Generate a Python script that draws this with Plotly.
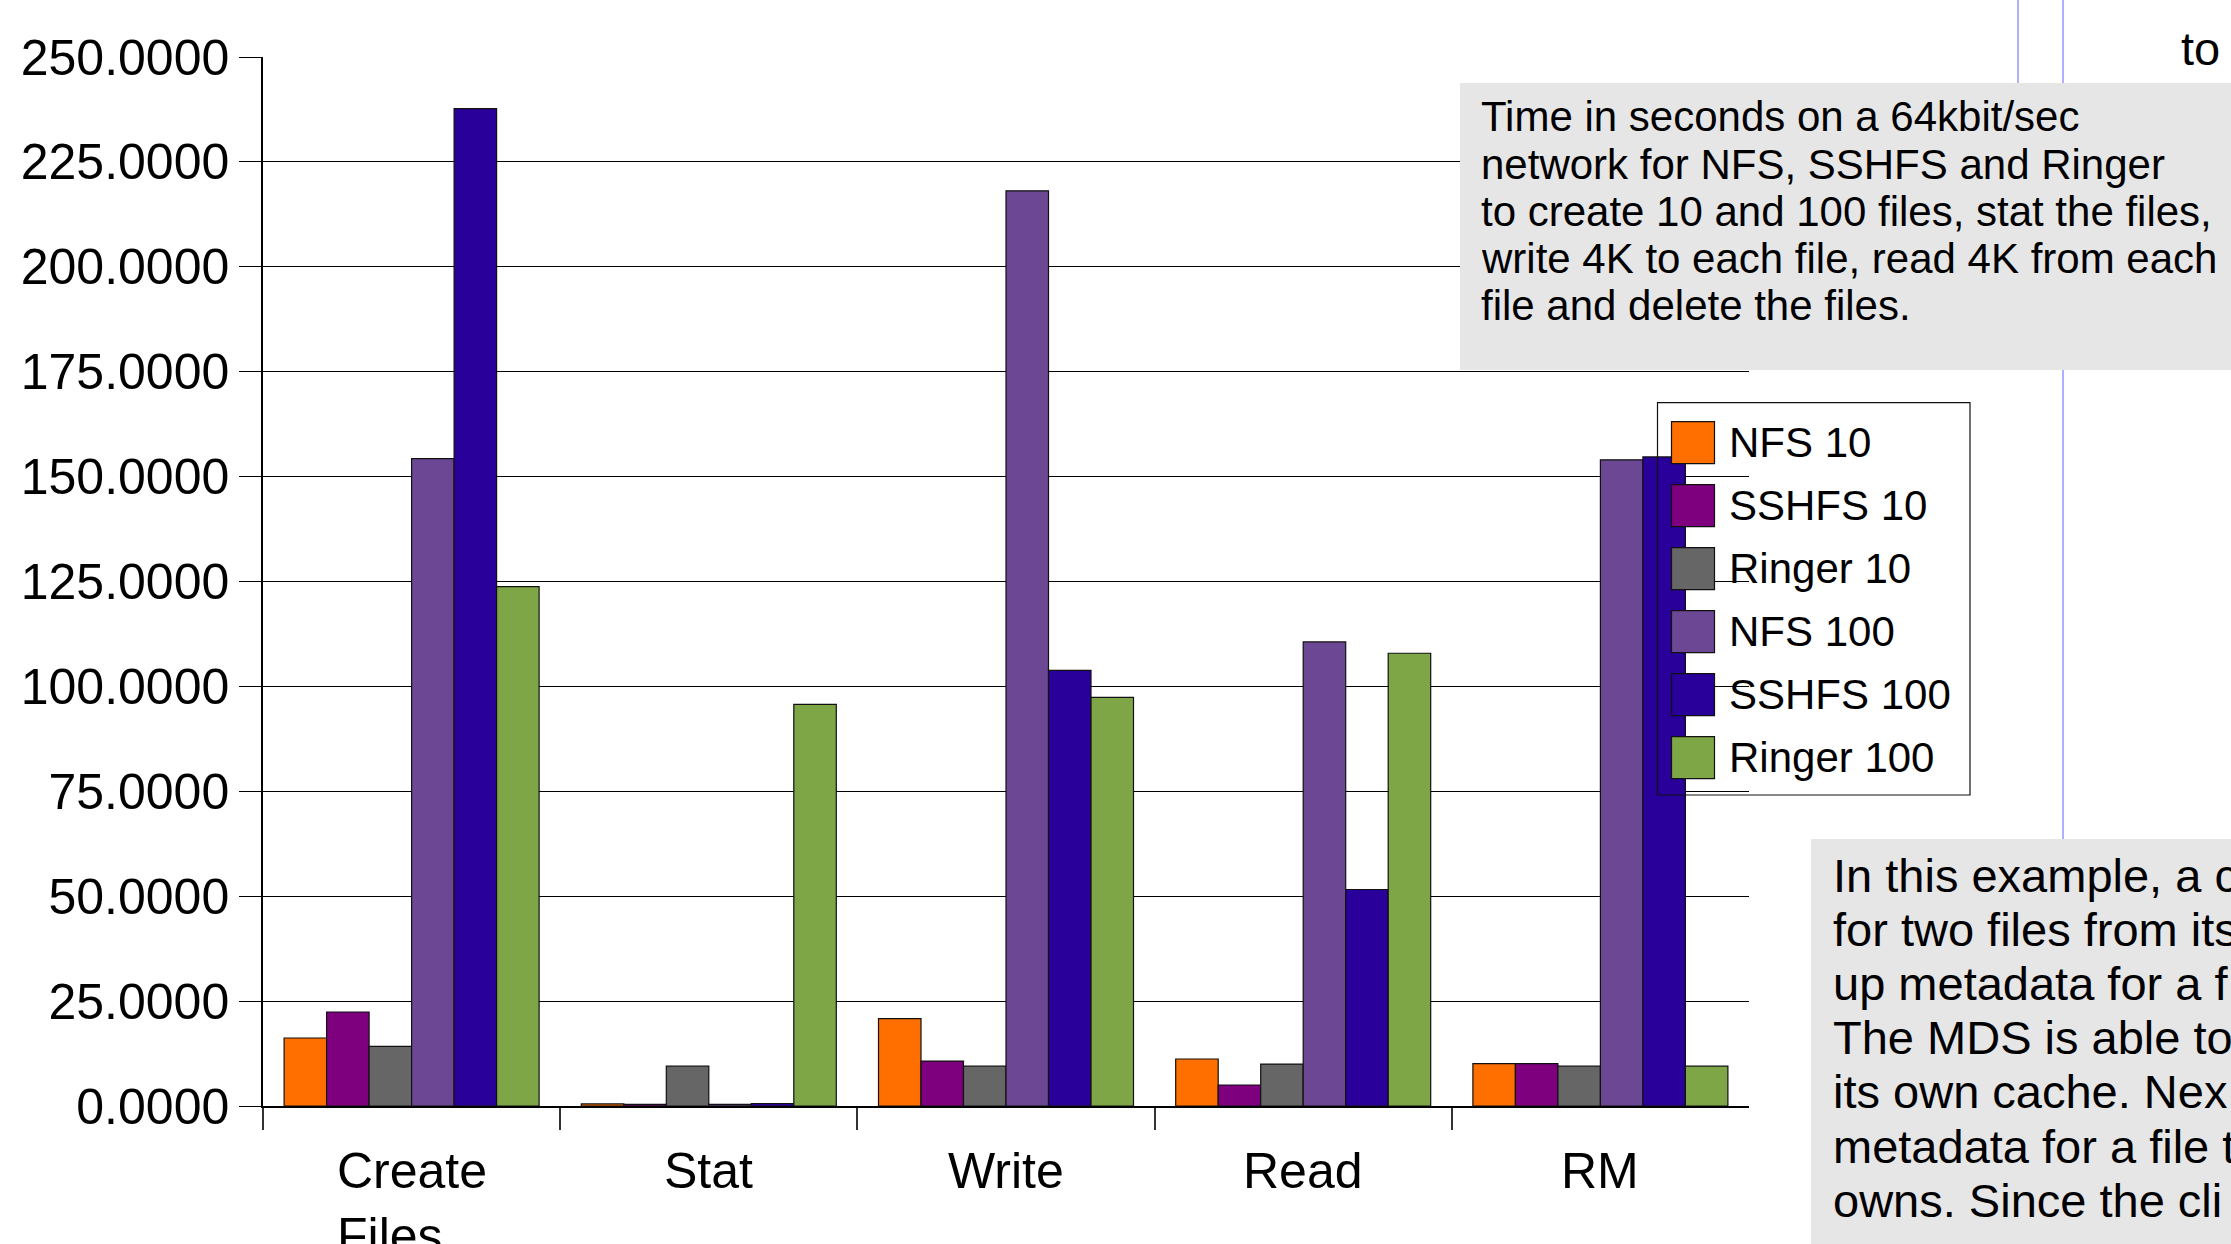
import plotly.graph_objects as go

# Benchmark results: time in seconds on a 64 kbit/s link
categories = ["Create\nFiles", "Stat", "Write", "Read", "RM"]
series_names = ["NFS 10", "SSHFS 10", "Ringer 10", "NFS 100", "SSHFS 100", "Ringer 100"]
series_colors = ["#FF6F00", "#7F007F", "#666666", "#6C4894", "#29009A", "#7EA646"]

nfs_10 = [16.2, 0.5, 20.8, 11.2, 10.1]
sshfs_10 = [22.4, 0.4, 10.7, 5.0, 10.1]
ringer_10 = [14.2, 9.5, 9.5, 10.0, 9.5]
nfs_100 = [154.3, 0.4, 218.1, 110.6, 154.0]
sshfs_100 = [237.7, 0.6, 103.8, 51.6, 154.7]
ringer_100 = [123.8, 95.7, 97.4, 107.9, 9.5]
series_values = [nfs_10, sshfs_10, ringer_10, nfs_100, sshfs_100, ringer_100]

y_ticks = [0, 25, 50, 75, 100, 125, 150, 175, 200, 225, 250]

note_lines = [
    "Time in seconds on a 64kbit/sec",
    "network for NFS, SSHFS and Ringer",
    "to create 10 and 100 files, stat the files,",
    "write 4K to each file, read 4K from each",
    "file and delete the files.",
]
side_lines = [
    "In this example, a c",
    "for two files from its",
    "up metadata for a f",
    "The MDS is able to",
    "its own cache. Nex",
    "metadata for a file t",
    "owns. Since the cli",
]

FONT = "Liberation Sans, Arial, sans-serif"
W, H = 2231, 1244
L, R, T, B = 263, 1749, 57, 1106  # plot area in pixels


def px_x(p):
    return (p - L) / (R - L)


def px_y(p):
    return (B - p) / (B - T)


fig = go.Figure()
x_pos = list(range(len(categories)))
for name, color, vals in zip(series_names, series_colors, series_values):
    fig.add_trace(go.Bar(
        x=x_pos, y=vals, name=name,
        marker=dict(color=color, line=dict(color="#111111", width=1.2)),
        showlegend=False,
    ))

shapes = []
annotations = []

# light-blue guide lines at the right
shapes.append(dict(type="line", xref="paper", yref="paper",
                   x0=px_x(2018), x1=px_x(2018), y0=px_y(0), y1=px_y(83),
                   line=dict(color="#AFAFFF", width=2), layer="above"))
shapes.append(dict(type="line", xref="paper", yref="paper",
                   x0=px_x(2063), x1=px_x(2063), y0=px_y(0), y1=px_y(839),
                   line=dict(color="#AFAFFF", width=2), layer="above"))

# grey note boxes
shapes.append(dict(type="rect", xref="paper", yref="paper",
                   x0=px_x(1460), x1=px_x(2260), y0=px_y(83), y1=px_y(370),
                   fillcolor="#E6E6E6", line=dict(width=0), layer="above"))
shapes.append(dict(type="rect", xref="paper", yref="paper",
                   x0=px_x(1811), x1=px_x(2260), y0=px_y(839), y1=px_y(1270),
                   fillcolor="#E6E6E6", line=dict(width=0), layer="above"))

for k, line in enumerate(note_lines):
    annotations.append(dict(text=line, xref="paper", yref="paper",
                            x=px_x(1479), y=px_y(116.7 + 47.3 * k),
                            xanchor="left", yanchor="middle", showarrow=False,
                            font=dict(family=FONT, size=42, color="black")))
for k, line in enumerate(side_lines):
    annotations.append(dict(text=line, xref="paper", yref="paper",
                            x=px_x(1831), y=px_y(875 + 54.2 * k),
                            xanchor="left", yanchor="middle", showarrow=False,
                            font=dict(family=FONT, size=47, color="black")))
annotations.append(dict(text="to", xref="paper", yref="paper",
                        x=px_x(2179), y=px_y(48), xanchor="left", yanchor="middle",
                        showarrow=False, font=dict(family=FONT, size=47, color="black")))

# legend box with swatches
shapes.append(dict(type="rect", xref="paper", yref="paper",
                   x0=px_x(1657.5), x1=px_x(1970), y0=px_y(402.7), y1=px_y(795),
                   fillcolor="rgba(0,0,0,0)", line=dict(color="#111111", width=1.2),
                   layer="above"))
for k, (name, color) in enumerate(zip(series_names, series_colors)):
    top = 421.7 + 63 * k
    shapes.append(dict(type="rect", xref="paper", yref="paper",
                       x0=px_x(1671.5), x1=px_x(1714.5), y0=px_y(top), y1=px_y(top + 42),
                       fillcolor=color, line=dict(color="#111111", width=1.2),
                       layer="above"))
    annotations.append(dict(text=name, xref="paper", yref="paper",
                            x=px_x(1727), y=px_y(top + 21), xanchor="left",
                            yanchor="middle", showarrow=False,
                            font=dict(family=FONT, size=42, color="black")))

# category labels under each group
for i, cat in enumerate(categories):
    annotations.append(dict(text=cat.replace("\n", "<br>"), x=i, xref="x",
                            y=0, yref="paper", yanchor="top", xanchor="center",
                            align="left", yshift=-35, showarrow=False,
                            font=dict(family=FONT, size=50, color="black")))

fig.update_layout(
    width=W, height=H,
    margin=dict(l=L, r=W - R, t=T, b=H - B, pad=0),
    paper_bgcolor="white", plot_bgcolor="white",
    barmode="group", bargap=0.142, bargroupgap=0,
    showlegend=False,
    shapes=shapes, annotations=annotations,
    font=dict(family=FONT, color="black"),
)
fig.update_xaxes(
    range=[-0.5, len(categories) - 0.5],
    tickvals=[i - 0.5 for i in range(len(categories))],
    showticklabels=False, ticks="outside", ticklen=22, tickwidth=1.5,
    tickcolor="#333333", showline=True, linecolor="black", linewidth=1.5,
    showgrid=False, zeroline=False,
)
fig.update_yaxes(
    range=[0, 250], tickvals=y_ticks, tickformat=".4f",
    ticks="outside", ticklen=22, tickwidth=1, tickcolor="black",
    tickfont=dict(family=FONT, size=50, color="black"),
    showline=True, linecolor="black", linewidth=1.5,
    showgrid=True, gridcolor="black", gridwidth=1, zeroline=False,
)

fig.write_html("out.html")
